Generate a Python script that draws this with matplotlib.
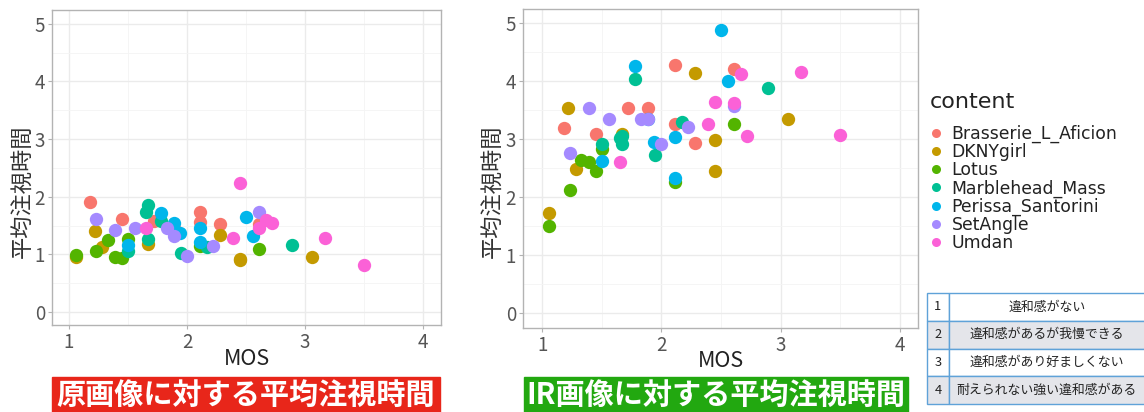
#!/usr/bin/env python3
"""Average gaze time vs MOS, original images and IR images."""

import matplotlib
matplotlib.use('Agg')
import matplotlib.pyplot as plt
from matplotlib.lines import Line2D
from matplotlib.patches import Rectangle

plt.rcParams['font.family'] = ['Noto Sans CJK JP', 'DejaVu Sans']

# --- data -------------------------------------------------------------
contents = ['Brasserie_L_Aficion', 'DKNYgirl', 'Lotus', 'Marblehead_Mass',
            'Perissa_Santorini', 'SetAngle', 'Umdan']
colors = ['#F8766D', '#C49A00', '#53B400', '#00C094', '#00B6EB', '#A58AFF', '#FB61D7']

mos = {
    'Brasserie_L_Aficion': [1.18, 1.45, 1.72, 1.89, 2.11, 2.11, 2.28, 2.61],
    'DKNYgirl':            [1.06, 1.22, 1.28, 1.67, 2.28, 2.45, 2.45, 3.06],
    'Lotus':               [1.06, 1.23, 1.33, 1.39, 1.45, 1.50, 2.11, 2.61],
    'Marblehead_Mass':     [1.50, 1.65, 1.67, 1.67, 1.78, 1.95, 2.17, 2.89],
    'Perissa_Santorini':   [1.50, 1.78, 1.89, 1.94, 2.11, 2.11, 2.50, 2.56],
    'SetAngle':            [1.23, 1.39, 1.56, 1.83, 1.89, 2.00, 2.22, 2.61],
    'Umdan':               [1.65, 2.39, 2.45, 2.61, 2.67, 2.72, 3.17, 3.50],
}

# average gaze time, original images
gaze_orig = {
    'Brasserie_L_Aficion': [1.90, 1.62, 1.57, 1.46, 1.73, 1.56, 1.53, 1.52],
    'DKNYgirl':            [0.95, 1.40, 1.13, 1.18, 1.33, 0.90, 0.92, 0.95],
    'Lotus':               [0.99, 1.05, 1.25, 0.96, 0.93, 1.26, 1.14, 1.09],
    'Marblehead_Mass':     [1.06, 1.73, 1.86, 1.27, 1.57, 1.03, 1.13, 1.16],
    'Perissa_Santorini':   [1.17, 1.71, 1.54, 1.37, 1.45, 1.21, 1.64, 1.32],
    'SetAngle':            [1.62, 1.42, 1.46, 1.46, 1.32, 0.97, 1.14, 1.74],
    'Umdan':               [1.46, 1.29, 2.23, 1.46, 1.60, 1.54, 1.28, 0.81],
}

# average gaze time, IR images
gaze_ir = {
    'Brasserie_L_Aficion': [3.19, 3.08, 3.54, 3.54, 4.27, 3.26, 2.93, 4.21],
    'DKNYgirl':            [1.72, 3.54, 2.48, 3.09, 4.13, 2.98, 2.44, 3.35],
    'Lotus':               [1.49, 2.12, 2.64, 2.60, 2.45, 2.83, 2.25, 3.26],
    'Marblehead_Mass':     [2.92, 3.02, 2.91, 3.05, 4.03, 2.72, 3.30, 3.88],
    'Perissa_Santorini':   [2.62, 4.26, 3.35, 2.94, 3.03, 2.33, 4.87, 4.00],
    'SetAngle':            [2.75, 3.54, 3.35, 3.35, 3.34, 2.92, 3.20, 3.57],
    'Umdan':               [2.60, 3.25, 3.64, 3.62, 4.12, 3.05, 4.15, 3.06],
}

mos_scale = [
    ('1', '違和感がない'),
    ('2', '違和感があるが我慢できる'),
    ('3', '違和感があり好ましくない'),
    ('4', '耐えられない強い違和感がある'),
]

W, H = 1144, 412


def fx(px):
    return px / W


def fy(py):
    return 1 - py / H


def scatter_panel(rect, gaze, xlim, ylim, ylab_xy, xlab_y):
    ax = fig.add_axes(rect)
    for name, col in zip(contents, colors):
        ax.scatter(mos[name], gaze[name], s=92, color=col, linewidths=0, zorder=3)
    ax.set_xlim(*xlim)
    ax.set_ylim(*ylim)
    ax.set_xticks([1, 2, 3, 4])
    ax.set_yticks([0, 1, 2, 3, 4, 5])
    ax.set_xticks([1.5, 2.5, 3.5], minor=True)
    ax.set_yticks([0.5, 1.5, 2.5, 3.5, 4.5], minor=True)
    ax.grid(which='major', color='#EBEBEB', linewidth=1.0)
    ax.grid(which='minor', color='#F4F4F4', linewidth=0.6)
    ax.set_axisbelow(True)
    for sp in ax.spines.values():
        sp.set_color('#B3B3B3')
        sp.set_linewidth(1.0)
    ax.tick_params(which='major', length=3, width=0.8, color='#B3B3B3',
                   labelsize=13.5, labelcolor='#555555', pad=2)
    ax.tick_params(which='minor', length=0)
    ax.set_xlabel('MOS', fontsize=15.5, color='#222222')
    ax.set_ylabel('平均注視時間', fontsize=16, color='#333333')
    ax.yaxis.set_label_coords(*ylab_xy)
    ax.xaxis.set_label_coords(0.5, xlab_y)
    return ax


fig = plt.figure(figsize=(W / 100, H / 100), dpi=100)

# left: original images
scatter_panel([fx(52), fy(325), fx(441 - 52), (325 - 10) / H], gaze_orig,
              (0.856, 4.153), (-0.226, 5.24), (-0.045, 0.425), -0.074)

# right: IR images
scatter_panel([fx(523), fy(328), fx(918 - 523), (328 - 9) / H], gaze_ir,
              (0.84, 4.15), (-0.26, 5.24), (-0.047, 0.43), -0.070)

# captions
captions = [('原画像に対する平均注視時間', '#E8261A', 52, 440),
            ('IR画像に対する平均注視時間', '#22A810', 524, 908)]
for text, col, x0, x1 in captions:
    fig.patches.append(Rectangle((fx(x0), 0), fx(x1 - x0), 35 / H,
                                 transform=fig.transFigure, color=col, zorder=1))
    fig.text(fx((x0 + x1) / 2), fy(395), text, ha='center', va='center',
             fontsize=21, fontweight='bold', color='white')

# legend
fig.text(fx(930), fy(102), 'content', fontsize=16, color='#222222',
         family='DejaVu Sans', ha='left', va='center')
handles = [Line2D([], [], marker='o', linestyle='', markersize=6.5,
                  markerfacecolor=c, markeredgewidth=0) for c in colors]
leg = fig.legend(handles, contents, loc='upper left',
                 bbox_to_anchor=(fx(930), fy(125)), frameon=False,
                 prop={'family': 'DejaVu Sans', 'size': 12.4},
                 handlelength=0.7, handletextpad=0.55,
                 labelspacing=0.0, borderpad=0, borderaxespad=0)
for t in leg.get_texts():
    t.set_color('#222222')

# MOS scale table
ax_tab = fig.add_axes([fx(927), fy(404), fx(1145 - 927), (404 - 293) / H])
ax_tab.axis('off')
tbl = ax_tab.table(cellText=[list(r) for r in mos_scale], colWidths=[0.1, 0.9],
                   cellLoc='center', bbox=[0, 0, 1, 1])
tbl.auto_set_font_size(False)
for (r, c), cell in tbl.get_celld().items():
    cell.set_edgecolor('#5FA2D8')
    cell.set_linewidth(1.0)
    cell.set_facecolor('#E4E5EA' if r % 2 == 1 else 'white')
    cell.get_text().set_fontsize(9.3)
    cell.get_text().set_color('#222222')

plt.savefig('out.png', dpi=100)
